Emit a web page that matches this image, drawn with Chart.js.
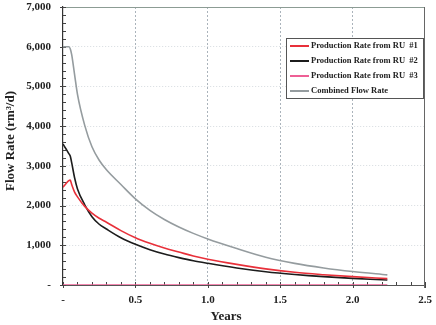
<!DOCTYPE html>
<html><head><meta charset="utf-8">
<script src="https://cdn.jsdelivr.net/npm/chart.js@4.4.0/dist/chart.umd.min.js"></script>
<style>html,body{margin:0;padding:0;background:#fff}#wrap{width:436px;height:325px}</style>
</head><body><div id="wrap"><canvas id="c" width="436" height="325"></canvas></div>
<script>
const years = [0,0.02,0.04,0.05,0.06,0.08,0.1,0.15,0.2,0.25,0.3,0.4,0.5,0.6,0.7,0.8,0.9,1.0,1.2,1.4,1.6,1.8,2.0,2.24];
const ru1 = [2460,2550,2630,2640,2530,2340,2220,1980,1810,1680,1580,1370,1190,1050,930,830,730,650,520,405,320,260,210,160];
const ru2 = [3550,3430,3310,3250,3080,2700,2420,2020,1720,1530,1410,1190,1025,890,780,690,610,546,430,335,265,210,168,126];
const ru3 = [0,0,0,0,0,0,0,0,0,0,0,0,0,0,0,0,0,0,0,0,0,0,0,0];
const combined = [6000,6000,6000,5950,5800,5300,4800,4020,3480,3140,2900,2530,2170,1880,1650,1460,1300,1160,920,700,545,430,340,255];
const seriesLabels = ['Production Rate from RU  #1','Production Rate from RU  #2','Production Rate from RU  #3','Combined Flow Rate'];
const seriesColors = ['#e8303a','#1c1c1c','#ee5f95','#959c9f'];
const yTitle = 'Flow Rate (rm\u00B3/d)';
const xTitle = 'Years';

const FONT = "'Liberation Serif','Times New Roman',serif";
function pts(arr){ return years.map((x,i)=>({x:x,y:arr[i]})); }
const seriesData = [ru1, ru2, ru3, combined];

const decor = {
  id:'decor',
  beforeDatasetsDraw(chart){
    const {ctx, chartArea:a, scales:{x,y}} = chart;
    ctx.save();
    ctx.lineWidth = 1;
    ctx.strokeStyle = '#8c9c94';
    ctx.beginPath(); ctx.moveTo(a.left, Math.round(a.top)+0.5); ctx.lineTo(a.right, Math.round(a.top)+0.5); ctx.stroke();
    ctx.strokeStyle = '#666';
    ctx.beginPath(); ctx.moveTo(Math.round(a.right)-0.5, a.top); ctx.lineTo(Math.round(a.right)-0.5, a.bottom+3); ctx.stroke();
    ctx.strokeStyle = '#444';
    ctx.beginPath();
    y.ticks.forEach(t=>{
      const py = Math.round(y.getPixelForValue(t.value))+0.5;
      const major = Math.round(t.value)%1000===0;
      ctx.moveTo(a.left-(major?3:0), py); ctx.lineTo(a.left+3, py);
    });
    x.ticks.forEach(t=>{
      const px = Math.round(x.getPixelForValue(t.value))+0.5;
      const major = Math.round(t.value*10)%5===0;
      ctx.moveTo(px, a.bottom+(major?3:0)); ctx.lineTo(px, a.bottom-3);
    });
    ctx.stroke();
    ctx.restore();
  },
  afterDraw(chart){
    const {ctx} = chart;
    ctx.save();
    ctx.fillStyle = '#222';
    ctx.font = "bold 13px " + FONT;
    ctx.textAlign = 'center'; ctx.textBaseline = 'middle';
    ctx.fillText(xTitle, 226, 317);
    ctx.translate(11, 141); ctx.rotate(-Math.PI/2);
    ctx.fillText(yTitle, 0, 0);
    ctx.restore();
    ctx.save();
    const bx = 286.5, by = 38.5, bw = 137, bh = 60;
    ctx.fillStyle = '#fff'; ctx.fillRect(bx, by, bw, bh);
    ctx.strokeStyle = '#555'; ctx.lineWidth = 1; ctx.strokeRect(bx, by, bw, bh);
    let fs = 9;
    ctx.font = "bold " + fs + "px " + FONT;
    const w = ctx.measureText(seriesLabels[0]).width;
    fs = Math.min(9, fs * 107 / w);
    ctx.font = "bold " + fs.toFixed(2) + "px " + FONT;
    ctx.textBaseline = 'middle'; ctx.textAlign = 'left';
    chart.data.datasets.forEach((ds,i)=>{
      const yy = 46 + i*15;
      ctx.strokeStyle = ds.borderColor; ctx.lineWidth = 2;
      ctx.beginPath(); ctx.moveTo(290, yy); ctx.lineTo(309, yy); ctx.stroke();
      ctx.fillStyle = '#222';
      ctx.fillText(ds.label, 311, yy);
    });
    ctx.restore();
  }
};

new Chart(document.getElementById('c'), {
  type:'line',
  data:{
    datasets: seriesData.map((d,i)=>({
      label: seriesLabels[i],
      data: pts(d),
      borderColor: seriesColors[i],
      backgroundColor: seriesColors[i],
      borderWidth: 1.6,
      pointRadius: 0,
      cubicInterpolationMode: 'monotone',
      fill:false
    }))
  },
  options:{
    responsive:false,
    animation:false,
    events:[],
    layout:{padding:{top:7,right:11,left:0,bottom:0}},
    plugins:{legend:{display:false}, tooltip:{enabled:false}},
    scales:{
      x:{
        type:'linear', min:0, max:2.5,
        afterFit(s){ s.height = 40; s.paddingLeft = 0; s.paddingRight = 0; },
        ticks:{
          stepSize:0.1, autoSkip:false, maxRotation:0, padding:9,
          font:{family:FONT, size:11, weight:'bold'}, color:'#222',
          callback(v){ const k=Math.round(v*10); if(k===0) return '-'; return k%5===0 ? (k/10).toFixed(1) : ''; }
        },
        grid:{
          drawTicks:false, tickLength:0, lineWidth:1,
          color(c){ const k=Math.round((c.tick?c.tick.value:0)*10); return (k%5===0 && k>0 && k<25) ? '#aab3bb' : 'rgba(0,0,0,0)'; }
        },
        border:{display:true, color:'#555', width:1, dash:[2,2]}
      },
      y:{
        min:0, max:7000,
        afterFit(s){ s.width = 63; s.paddingTop = 0; s.paddingBottom = 0; },
        ticks:{
          stepSize:200, autoSkip:false, padding:12,
          font:{family:FONT, size:11, weight:'bold'}, color:'#222',
          callback(v){ const r=Math.round(v); if(r===0) return '-'; return r%1000===0 ? r.toLocaleString('en-US') : ''; }
        },
        grid:{
          drawTicks:false, tickLength:0, lineWidth:1,
          color(c){ const r=Math.round(c.tick?c.tick.value:0); return (r%1000===0 && r>0 && r<7000) ? '#d6dbdf' : 'rgba(0,0,0,0)'; }
        },
        border:{display:true, color:'#333', width:1.2, dash:[1,2]}
      }
    }
  },
  plugins:[decor]
});
</script></body></html>
